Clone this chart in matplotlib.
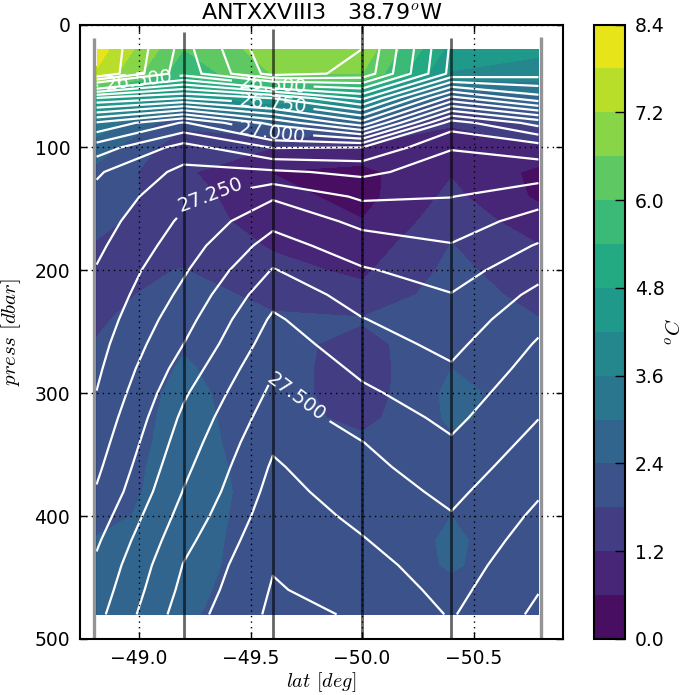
import numpy as np
import matplotlib
matplotlib.use("Agg")
import matplotlib.pyplot as plt

plt.rcParams["mathtext.fontset"] = "cm"
plt.rcParams["font.family"] = "DejaVu Sans"

# stations along the section
station_lat = [-48.8, -49.2, -49.6, -50.0, -50.4, -50.8]
station_top = [11, 6, 4, 1, 11, 10]   # shallowest sample of each cast
grid_lat = [-48.81, -49.2, -49.6, -50.0, -50.4, -50.79]
press = list(range(20, 481, 20))

# potential density, one list per station
sig_1 = [26.300, 26.303, 26.705, 26.955, 27.073, 27.144, 27.163, 27.177, 27.190, 27.203, 27.212, 27.222,
         27.232, 27.241, 27.251, 27.264, 27.277, 27.290, 27.304, 27.324, 27.343, 27.359, 27.372, 27.385]
sig_2 = [26.468, 26.480, 26.752, 27.055, 27.170, 27.213, 27.238, 27.259, 27.276, 27.294, 27.312, 27.331,
         27.350, 27.372, 27.393, 27.410, 27.424, 27.438, 27.452, 27.469, 27.486, 27.502, 27.513, 27.526]
sig_3 = [26.310, 26.330, 26.700, 26.934, 27.097, 27.208, 27.294, 27.336, 27.371, 27.403, 27.433, 27.458,
         27.476, 27.495, 27.511, 27.527, 27.543, 27.556, 27.566, 27.576, 27.587, 27.597, 27.604, 27.610]
sig_4 = [26.350, 26.363, 26.590, 26.817, 27.100, 27.189, 27.242, 27.287, 27.323, 27.355, 27.379, 27.402,
         27.421, 27.440, 27.459, 27.480, 27.501, 27.514, 27.527, 27.540, 27.553, 27.567, 27.581, 27.596]
sig_5 = [26.608, 26.615, 26.868, 27.125, 27.197, 27.224, 27.249, 27.276, 27.303, 27.328, 27.352, 27.369,
         27.387, 27.405, 27.422, 27.438, 27.455, 27.472, 27.488, 27.503, 27.514, 27.525, 27.535, 27.546]
sig_6 = [26.625, 26.630, 26.770, 27.030, 27.175, 27.226, 27.279, 27.319, 27.354, 27.384, 27.412, 27.436,
         27.455, 27.470, 27.485, 27.499, 27.515, 27.530, 27.545, 27.559, 27.572, 27.585, 27.598, 27.610]

# temperature, one list per station
temp_1 = [8.1, 7.7, 5.0, 3.4, 2.7, 2.25, 2.15, 1.95, 1.75, 1.65, 1.68, 1.74,
          1.82, 1.9, 2.0, 2.0, 2.0, 2.0, 2.0, 2.2, 2.45, 2.5, 2.55, 2.6]
temp_2 = [6.0, 5.6, 4.0, 1.95, 1.4, 1.3, 1.44, 1.42, 1.6, 1.82, 1.95, 2.1,
          2.35, 2.46, 2.53, 2.58, 2.62, 2.7, 2.76, 2.7, 2.65, 2.6, 2.52, 2.46]
temp_3 = [6.9, 6.62, 4.7, 2.6, 1.2, 0.58, 0.8, 1.0, 1.15, 1.35, 1.7, 1.85,
          2.0, 2.05, 2.1, 2.1, 2.1, 2.1, 2.1, 2.1, 2.1, 2.12, 2.14, 2.15]
temp_4 = [7.0, 6.6, 4.4, 2.55, 1.0, 0.45, 0.4, 0.62, 0.85, 1.1, 1.35, 1.85,
          1.6, 1.5, 1.45, 1.6, 1.95, 2.05, 2.1, 2.1, 2.12, 2.13, 2.14, 2.15]
temp_5 = [4.6, 4.15, 2.3, 1.25, 0.95, 1.15, 1.35, 1.55, 1.82, 1.95, 2.1, 2.15,
          2.25, 2.4, 2.55, 2.5, 2.3, 2.2, 2.2, 2.4, 2.46, 2.44, 2.3, 2.2]
temp_6 = [4.35, 3.9, 2.9, 1.9, 1.1, 0.45, 0.5, 0.9, 1.22, 1.45, 1.6, 1.82,
          1.95, 2.05, 2.13, 2.1, 2.1, 2.12, 2.13, 2.15, 2.15, 2.15, 2.15, 2.15]

temp_levels = [0.0, 0.6, 1.2, 1.8, 2.4, 3.0, 3.6, 4.2, 4.8, 5.4, 6.0, 6.6, 7.2, 7.8, 8.4]
cbar_ticks = [0.0, 1.2, 2.4, 3.6, 4.8, 6.0, 7.2, 8.4]
plain_levels = [26.35, 26.40, 26.45, 26.55, 26.60, 26.65, 26.70, 26.80, 26.85, 26.90, 26.95,
                27.05, 27.10, 27.15, 27.20, 27.30, 27.35, 27.40, 27.45, 27.55, 27.60]
label_levels = [26.50, 26.75, 27.00, 27.25, 27.50]
x_ticks = [-49.0, -49.5, -50.0, -50.5]
y_ticks = [0, 100, 200, 300, 400, 500]

sigma = np.column_stack([sig_1, sig_2, sig_3, sig_4, sig_5, sig_6])
temp = np.column_stack([temp_1, temp_2, temp_3, temp_4, temp_5, temp_6])

W, H = 685.0, 695.0
fig = plt.figure(figsize=(W / 100, H / 100), dpi=100)
ax = fig.add_axes([80 / W, (H - 639) / H, 483 / W, 614.5 / H])
cax = fig.add_axes([594 / W, (H - 639) / H, 31 / W, 614.5 / H])

cf = ax.contourf(grid_lat, press, temp, levels=temp_levels, cmap="viridis")
ax.contour(grid_lat, press, sigma, levels=plain_levels, colors="w", linewidths=1.6)
cs = ax.contour(grid_lat, press, sigma, levels=label_levels, colors="w", linewidths=1.6)

ax.set_xlim(-48.736, -50.9)
ax.set_ylim(500, 0)

ax.clabel(cs, fmt="%.3f", fontsize=14, inline=True, inline_spacing=7,
          manual=[(-49.0, 46), (-49.6, 48), (-49.6, 63), (-49.6, 86), (-49.32, 140), (-49.71, 302)])

for i, lat in enumerate(station_lat):
    outer = i == 0 or i == len(station_lat) - 1
    ax.vlines(lat, station_top[i], 500, colors="k", alpha=0.42 if outer else 0.6,
              linewidth=2.4 if outer else 2.0, zorder=3)

ax.set_xticks(x_ticks)
ax.set_yticks(y_ticks)
ax.set_axisbelow(False)
ax.grid(True, color="k", linestyle=(0, (1, 3)), linewidth=1.0)
ax.tick_params(direction="in", top=True, right=True, length=5, width=1, labelsize=13.5, pad=7)
for s in ax.spines.values():
    s.set_linewidth(1.5)
ax.set_xlabel("$lat$ $[deg]$", fontsize=14.5, labelpad=2)
ax.set_ylabel("$press$ $[dbar]$", fontsize=15, labelpad=8)
ax.set_title("ANTXXVIII3   38.79$^o$W", fontsize=16, pad=4)

cb = fig.colorbar(cf, cax=cax, ticks=cbar_ticks)
cb.ax.tick_params(direction="in", length=7, width=1, labelsize=13.5, pad=7)
cb.ax.set_yticklabels(["%.1f" % t for t in cbar_ticks])
cb.outline.set_linewidth(1.5)
cb.set_label("$^oC$", fontsize=15, labelpad=0)

fig.savefig("out.png", dpi=100)
